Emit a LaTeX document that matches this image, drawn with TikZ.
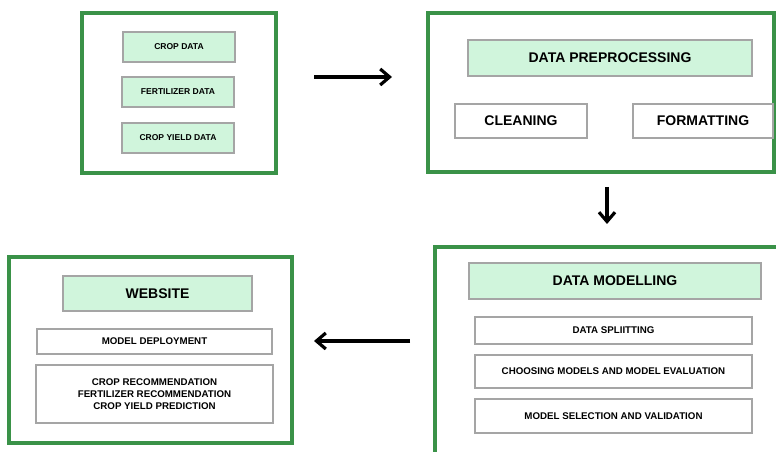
\documentclass[tikz,border=0pt]{standalone}
\usepackage{fontspec}
\setmainfont{Liberation Sans}
\usetikzlibrary{fit,arrows.meta}
\definecolor{frameg}{RGB}{58,146,72}
\definecolor{lightg}{RGB}{208,245,220}
\definecolor{boxgray}{RGB}{165,165,165}
\tikzset{
  frame/.style={draw=frameg, line width=3pt, inner sep=0pt},
  gbox/.style={draw=boxgray, fill=lightg, line width=0.8pt, inner sep=0pt},
  wbox/.style={draw=boxgray, fill=white, line width=0.8pt, inner sep=0pt},
  big/.style={font=\fontsize{10.5}{12}\selectfont\bfseries, align=center, inner sep=0pt},
  small/.style={font=\fontsize{7.3}{9.2}\selectfont\bfseries, align=center, inner sep=0pt},
  tiny/.style={font=\fontsize{6.4}{8}\selectfont\bfseries, align=center, inner sep=0pt},
  flow/.style={line width=2.4pt, -{Straight Barb[length=7pt,width=12pt,line width=2.4pt]}}
}
\begin{document}
\begin{tikzpicture}[x=0.75pt,y=-0.75pt]
\useasboundingbox[fill=white] (0,0) rectangle (776,452);
% frames
\node[frame, fit={(82,13)(276,173)}] (f1) {};
\node[frame, fit={(428,13)(774,172)}] (f2) {};
\node[frame, fit={(9,257)(292,443)}] (f3) {};
\node[frame, fit={(435,247)(800,480)}] (f4) {};
% box 1
\node[gbox, fit={(123,32)(235,62)}, label={[tiny]center:CROP DATA}] (crop) {};
\node[gbox, fit={(122,77)(234,107)}, label={[tiny]center:FERTILIZER DATA}] (fert) {};
\node[gbox, fit={(122,123)(234,153)}, label={[tiny]center:CROP YIELD DATA}] (yield) {};
% box 2
\node[gbox, fit={(468,40)(752,76)}, label={[big]center:DATA PREPROCESSING}] (pre) {};
\node[wbox, fit={(455,104)(587,138)}, label={[big]center:CLEANING}] (clean) {};
\node[wbox, fit={(633,104)(773,138)}, label={[big]center:FORMATTING}] (form) {};
% box 3
\node[gbox, fit={(63,276)(252,311)}, label={[big]center:WEBSITE}] (web) {};
\node[wbox, fit={(37,329)(272,354)}, label={[small]center:MODEL DEPLOYMENT}] (deploy) {};
\node[wbox, fit={(36,365)(273,423)}, label={[small]center:CROP RECOMMENDATION\\FERTILIZER RECOMMENDATION\\CROP YIELD PREDICTION}] (recs) {};
% box 4
\node[gbox, fit={(469,263)(761,299)}, label={[big]center:DATA MODELLING}] (model) {};
\node[wbox, fit={(475,317)(752,344)}, label={[small]center:DATA SPLIITTING}] (split) {};
\node[wbox, fit={(475,355)(752,388)}, label={[small]center:CHOOSING MODELS AND MODEL EVALUATION}] (choose) {};
\node[wbox, fit={(475,399)(752,433)}, label={[small]center:MODEL SELECTION AND VALIDATION}] (select) {};
% arrows
\coordinate (a1s) at (314,77);
\coordinate (a1e) at (392,77);
\coordinate (a2s) at (607,187);
\coordinate (a2e) at (607,224);
\coordinate (a3s) at (410,341);
\coordinate (a3e) at (314,341);
\draw[flow] (a1s) -- (a1e);
\draw[flow] (a2s) -- (a2e);
\draw[flow] (a3s) -- (a3e);
\end{tikzpicture}
\end{document}
